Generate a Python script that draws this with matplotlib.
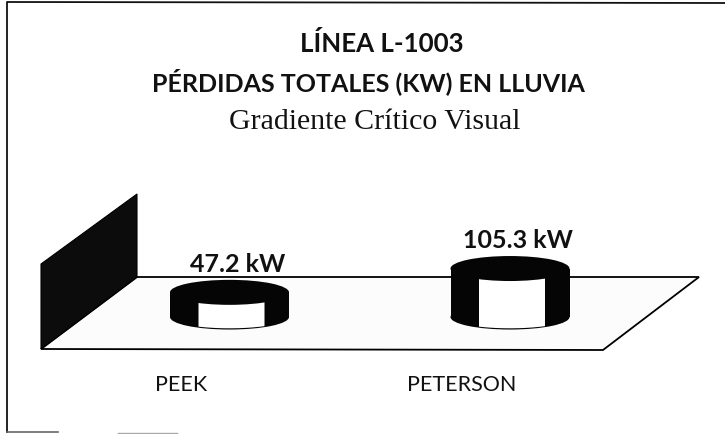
import matplotlib
matplotlib.use('Agg')
import matplotlib.pyplot as plt
import numpy as np
from matplotlib.patches import Ellipse, Polygon, Rectangle

categories = ['PEEK', 'PETERSON']
values = [47.2, 105.3]
value_labels = ['47.2 kW', '105.3 kW']
title_lines = ['LÍNEA L-1003', 'PÉRDIDAS TOTALES (KW) EN LLUVIA']
subtitle = 'Gradiente Crítico Visual'

W, H = 725, 435
fig = plt.figure(figsize=(W / 100, H / 100), dpi=100, facecolor='white')

# pixel axes for the frame, the floor and the wall
bg = fig.add_axes([0, 0, 1, 1])
bg.set_xlim(0, W)
bg.set_ylim(H, 0)
bg.axis('off')

bg.plot([725, 7, 7], [4, 3, 433], color='#111111', lw=1.3)
bg.plot([7, 58], [433, 433], color='#666666', lw=1.2)
bg.plot([118, 177], [434, 434], color='#aaaaaa', lw=1)
bg.add_patch(Polygon([(41, 350), (137, 278), (699, 278), (603, 351)], fc='#fcfcfc', ec='black', lw=1.3))
bg.add_patch(Polygon([(41, 265), (137, 195), (137, 278), (41, 350)], fc='#0c0c0c', ec='black', lw=0.8))

bg.text(382, 44, title_lines[0], family='Lato', weight='bold', fontsize=18.6, ha='center', va='center', color='#111111')
bg.text(368, 82, title_lines[1], family='Lato', weight='bold', fontsize=18, ha='center', va='center', color='#111111')
bg.text(375, 122, subtitle, family='Liberation Serif', fontsize=21.5, ha='center', va='center', color='#111111')

# data axes: category positions across, kW upwards
px_per_cat = 280.5
px_per_kw = 0.41
x0_px, y0_px = 229.5, 312.7
ax = fig.add_axes([0, 0, 1, 1])
ax.patch.set_alpha(0)
ax.set_xlim(-x0_px / px_per_cat, (W - x0_px) / px_per_cat)
ax.set_ylim((y0_px - H) / px_per_kw, y0_px / px_per_kw)
ax.axis('off')

base = -13
width = 119 / px_per_cat
depth = 25 / px_per_kw
win_left, win_right = -31 / px_per_cat, 35 / px_per_cat

for i, v in enumerate(values):
    ax.add_patch(Ellipse((i, base), width, depth, fc='#050505', ec='none', zorder=2))
    ax.add_patch(Rectangle((i - width / 2, base), width, v - base, fc='#050505', ec='none', zorder=2))
    # light front window of the cylinder, its foot follows the base ellipse
    xs = np.linspace(win_left, win_right, 30)
    foot = base - (depth / 2 - 3) * np.sqrt(1 - (xs / (width / 2)) ** 2)
    pts = list(zip(i + xs, foot)) + [(i + win_right, v), (i + win_left, v)]
    ax.add_patch(Polygon(pts, fc='white', ec='none', zorder=3))
    ax.add_patch(Ellipse((i, v), width, depth, fc='#050505', ec='none', zorder=4))
    ax.annotate(value_labels[i], (i, v), xytext=(8, 29), textcoords='offset pixels',
                family='Lato', weight='bold', fontsize=18, ha='center', va='center', color='#111111')
    ax.annotate(categories[i], (i, base), xytext=(-48, -67), textcoords='offset pixels',
                family='Lato', fontsize=15.5, ha='center', va='center', color='#111111')

fig.savefig('out.png', dpi=100)
